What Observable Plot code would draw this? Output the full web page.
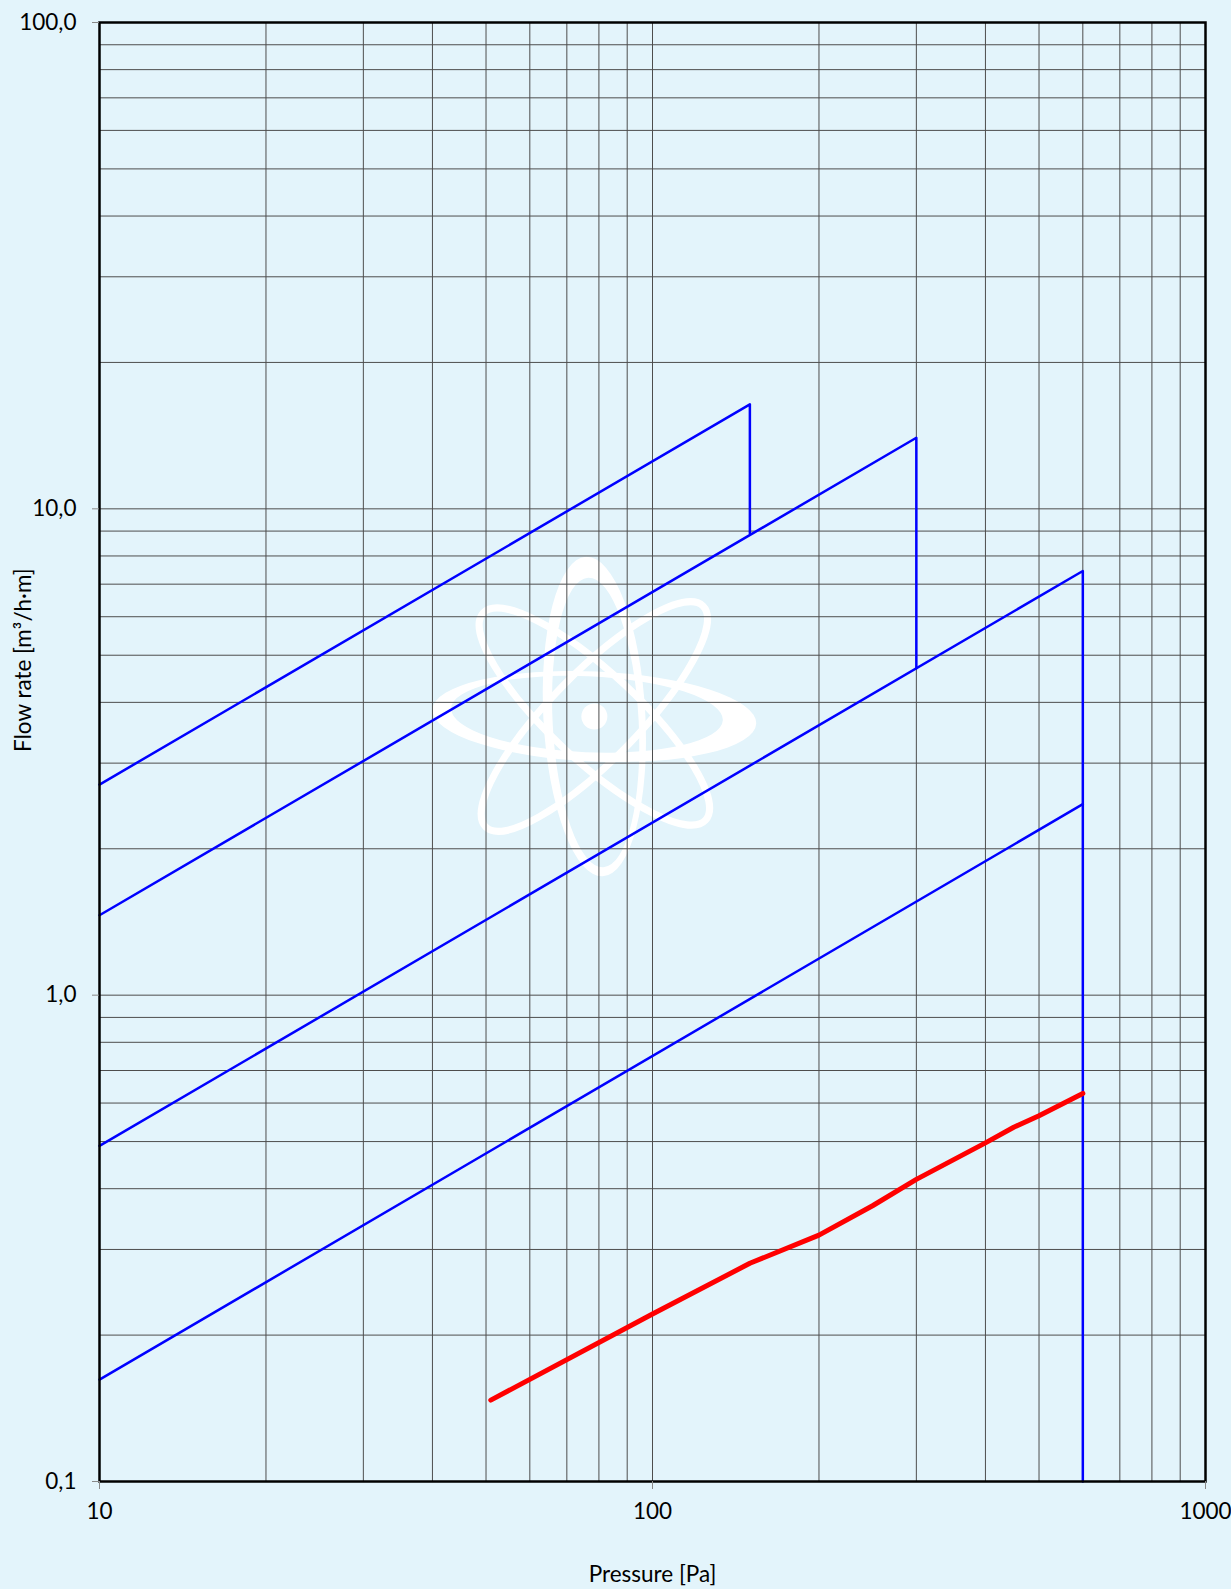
<!DOCTYPE html>
<html><head><meta charset="utf-8">
<script src="https://cdn.jsdelivr.net/npm/d3@7"></script>
<script src="https://cdn.jsdelivr.net/npm/@observablehq/plot@0.6"></script>
<style>
html,body{margin:0;padding:0;background:#E3F4FB;}
#chart{width:1231px;height:1589px;}
</style></head><body><div id="chart"></div>
<script>
// Blue limit lines (Pressure [Pa] -> Flow rate [m³/h·m])
const pressureA = [10, 150, 150];
const flowA     = [2.71, 16.4, 8.9];
const pressureB = [10, 300, 300];
const flowB     = [1.46, 14.0, 4.7];
const pressureC = [10, 600, 600];
const flowC     = [0.49, 7.45, 0.1];
const pressureD = [10, 600];
const flowD     = [0.162, 2.47];
// Red measured curve
const redPressure = [51, 100, 150, 200, 250, 300, 400, 450, 500, 600];
const redFlow     = [0.147, 0.221, 0.281, 0.321, 0.369, 0.418, 0.497, 0.535, 0.565, 0.628];
// Axes
const xTicks = [10, 100, 1000];
const xTickLabels = ["10", "100", "1000"];
const yTicks = [0.1, 1, 10, 100];
const yTickLabels = ["0,1", "1,0", "10,0", "100,0"];
const gridMultipliers = [1, 2, 3, 4, 5, 6, 7, 8, 9];
const xLabel = "Pressure [Pa]";
const yLabel = "Flow rate [m³/h·m]";

const blueRows = [];
[["A", pressureA, flowA], ["B", pressureB, flowB], ["C", pressureC, flowC], ["D", pressureD, flowD]]
  .forEach(([s, ps, qs]) => ps.forEach((p, i) => blueRows.push({s, p, q: qs[i]})));
const redRows = redPressure.map((p, i) => ({p, q: redFlow[i]}));

const gridX = [10, 100].flatMap(d => gridMultipliers.map(m => d * m)).concat([1000]);
const gridY = [0.1, 1, 10].flatMap(d => gridMultipliers.map(m => +(d * m).toPrecision(6))).concat([100]);

const xLabelMap = new Map(xTicks.map((d, i) => [d, xTickLabels[i]]));
const yLabelMap = new Map(yTicks.map((d, i) => [d, yTickLabels[i]]));

// Watermark atom logo
const atomSvg = `<svg xmlns="http://www.w3.org/2000/svg" viewBox="0 0 330 330" width="330" height="330">
<g fill="none" stroke="#ffffff">
<g transform="rotate(2.5 165 165)">
<path fill="#ffffff" stroke="none" fill-rule="evenodd" d="M3,165 a162,45 0 1,0 324,0 a162,45 0 1,0 -324,0 Z M21.5,163 a136,38 0 1,0 272,0 a136,38 0 1,0 -272,0 Z"/>
</g>
<g transform="rotate(-3 165 165)">
<path fill="#ffffff" stroke="none" fill-rule="evenodd" d="M114,165 a51,160 0 1,0 102,0 a51,160 0 1,0 -102,0 Z M123,171 a43,145 0 1,0 86,0 a43,145 0 1,0 -86,0 Z"/>
</g>
<ellipse cx="165" cy="165" rx="152" ry="44" stroke-width="7" transform="rotate(43 165 165)"/>
<ellipse cx="165" cy="165" rx="155" ry="44" stroke-width="7" transform="rotate(-45.5 165 165)"/>
</g>
<circle cx="165" cy="165" r="13" fill="#ffffff"/>
</svg>`;
const logo = [{x: 78.5, y: 3.74, src: "data:image/svg+xml;utf8," + encodeURIComponent(atomSvg)}];

const fs = 22.5;
const chart = Plot.plot({
  width: 1231,
  height: 1589,
  marginTop: 22,
  marginBottom: 108,
  marginLeft: 99,
  marginRight: 26,
  style: {background: "#E3F4FB", fontFamily: "Lato, 'Open Sans', sans-serif", fontSize: fs + "px", color: "#000"},
  x: {type: "log", domain: [10, 1000]},
  y: {type: "log", domain: [0.1, 100]},
  marks: [
    Plot.image(logo, {x: "x", y: "y", src: "src", width: 330, height: 330}),
    Plot.ruleX(gridX, {stroke: "#4d4d4d", strokeWidth: 1}),
    Plot.ruleY(gridY, {stroke: "#4d4d4d", strokeWidth: 1}),
    Plot.line(blueRows, {x: "p", y: "q", z: "s", stroke: "#0000FF", strokeWidth: 2.5}),
    Plot.line(redRows, {x: "p", y: "q", stroke: "#FF0000", strokeWidth: 5, strokeLinecap: "round", strokeLinejoin: "round"}),
    Plot.frame({stroke: "#000", strokeWidth: 2.5}),
    Plot.axisX(xTicks, {tickSize: 8, tickPadding: 14, stroke: "#888", fill: "#000", tickFormat: d => xLabelMap.get(d), label: null, fontSize: fs}),
    Plot.axisY(yTicks, {tickSize: 7, tickPadding: 16, stroke: "#888", fill: "#000", tickFormat: d => yLabelMap.get(d), label: null, fontSize: fs}),
    Plot.text([xLabel], {frameAnchor: "bottom", dy: 100, text: d => d, fontSize: fs, fill: "#000"}),
    Plot.text([yLabel], {frameAnchor: "left", dx: -76, rotate: -90, text: d => d, fontSize: fs, fill: "#000"})
  ]
});
document.getElementById("chart").appendChild(chart);
</script>
</body></html>
